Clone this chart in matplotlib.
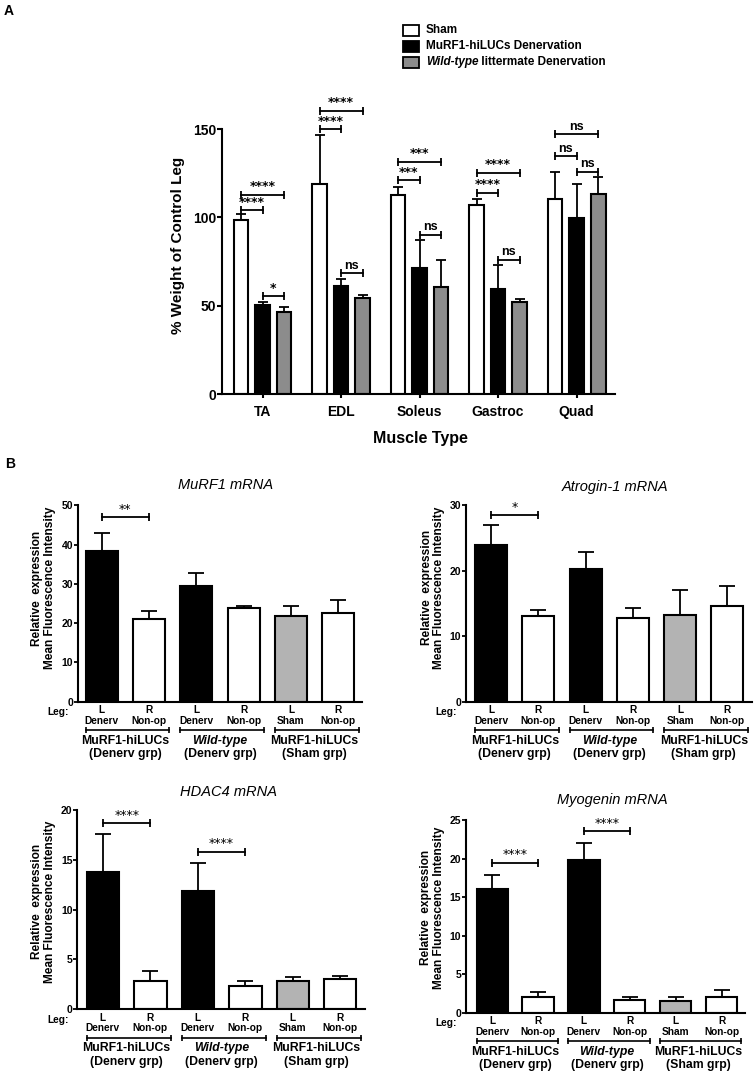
import numpy as np
import matplotlib
matplotlib.use('Agg')
import matplotlib.pyplot as plt
from matplotlib.patches import Rectangle
from matplotlib import transforms

plt.rcParams['font.family'] = ['Liberation Sans', 'DejaVu Sans']

# ---------------- panel A data (% weight of control leg)
muscles = ['TA', 'EDL', 'Soleus', 'Gastroc', 'Quad']
sham = [98.5, 118.8, 112.8, 106.8, 110.4]
sham_err = [3.5, 27.8, 4.5, 3.5, 15.2]
murf_den = [50.6, 60.9, 71.3, 59.6, 99.4]
murf_den_err = [1.4, 4.3, 16.1, 13.5, 19.8]
wt_den = [46.2, 54.5, 60.5, 52.2, 113.5]
wt_den_err = [2.8, 1.5, 15.5, 1.6, 9.5]
legend_a = ['Sham', 'MuRF1-hiLUCs Denervation', 'littermate Denervation']
# (muscle, bar i, bar j, y, label)
sig_a = [(0, 0, 1, 104, '****'), (0, 0, 2, 112.8, '****'), (0, 1, 2, 55.4, '*'),
         (1, 0, 1, 149.8, '****'), (1, 0, 2, 160.5, '****'), (1, 1, 2, 68.4, 'ns'),
         (2, 0, 1, 121, '***'), (2, 0, 2, 131.6, '***'), (2, 1, 2, 90.2, 'ns'),
         (3, 0, 1, 114.1, '****'), (3, 0, 2, 125.4, '****'), (3, 1, 2, 76, 'ns'),
         (4, 0, 1, 134.8, 'ns'), (4, 0, 2, 147, 'ns'), (4, 1, 2, 125.9, 'ns')]

# ---------------- panel B data (relative expression)
leg_side = ['L', 'R', 'L', 'R', 'L', 'R']
leg_cond = ['Denerv', 'Non-op', 'Denerv', 'Non-op', 'Sham', 'Non-op']
grp_name = ['MuRF1-hiLUCs', 'Wild-type', 'MuRF1-hiLUCs']
grp_sub = ['(Denerv grp)', '(Denerv grp)', '(Sham grp)']
murf1_mrna = [38.4, 21.0, 29.5, 23.8, 21.9, 22.7]
murf1_err = [4.6, 2.2, 3.2, 0.5, 2.5, 3.3]
atrogin_mrna = [23.9, 13.15, 20.2, 12.75, 13.25, 14.6]
atrogin_err = [3.1, 0.9, 2.7, 1.5, 3.8, 3.1]
hdac4_mrna = [13.74, 2.83, 11.87, 2.3, 2.8, 3.03]
hdac4_err = [3.9, 1.04, 2.83, 0.57, 0.4, 0.34]
myog_mrna = [16.1, 2.03, 19.8, 1.64, 1.47, 2.03]
myog_err = [1.7, 0.62, 2.16, 0.36, 0.56, 0.97]
sig_murf1 = [(0, 1, 46.9, '**')]
sig_atrogin = [(0, 1, 28.5, '*')]
sig_hdac4 = [(0, 1, 18.7, '****'), (2, 3, 15.8, '****')]
sig_myog = [(0, 1, 19.45, '****'), (2, 3, 23.57, '****')]

W, H = 755, 1074
fig = plt.figure(figsize=(W / 100, H / 100), dpi=100)
# pixel coords measured from top-left
px = transforms.Affine2D().scale(1.0 / W, -1.0 / H).translate(0, 1) + fig.transFigure


def add_ax(x0, x1, ytop, y0):
    return fig.add_axes([x0 / W, 1 - y0 / H, (x1 - x0) / W, (y0 - ytop) / H])


def bracket(ax, x1, x2, y, label, bold=True):
    ax.plot([x1, x2], [y, y], color='k', lw=1.3, clip_on=False)
    ax.plot([x1, x2], [y, y], ls='none', marker='|', ms=6, mew=1.3, color='k', clip_on=False)
    fam = 'DejaVu Sans' if '*' in label else 'Liberation Sans'
    ax.annotate(label, xy=((x1 + x2) / 2, y), xytext=(0, 1), textcoords='offset points',
                ha='center', va='bottom', fontsize=9, family=fam,
                fontweight='bold' if bold else 'normal', annotation_clip=False)


# ================= panel A
axA = add_ax(222, 615, 85, 394)
xa = np.arange(len(muscles))
off = 0.274
wa = 0.19
series = [(sham, sham_err, 'white'), (murf_den, murf_den_err, 'black'), (wt_den, wt_den_err, '#8c8c8c')]
for k, (v, e, c) in enumerate(series):
    xx = xa + (k - 1) * off
    axA.bar(xx, v, width=wa, color=c, edgecolor='k', linewidth=1.5, zorder=2)
    axA.errorbar(xx, v, yerr=[np.zeros(len(v)), e], fmt='none', ecolor='k',
                 elinewidth=1.3, capsize=3.3, capthick=1.3, zorder=1)
for g, i, j, y, lab in sig_a:
    bracket(axA, g + (i - 1) * off, g + (j - 1) * off, y, lab)

axA.set_xlim(-0.516, 4.49)
axA.set_ylim(0, 175)
axA.set_yticks([0, 50, 100, 150])
axA.spines['left'].set_bounds(0, 150)
for s in ['top', 'right']:
    axA.spines[s].set_visible(False)
for s in ['left', 'bottom']:
    axA.spines[s].set_linewidth(1.5)
axA.set_xticks(xa)
axA.set_xticklabels(muscles, fontsize=10, fontweight='bold')
axA.tick_params(axis='x', length=3, width=1.5, pad=5)
axA.tick_params(axis='y', length=3.6, width=1.5, pad=0.5, labelsize=10)
for t in axA.get_yticklabels():
    t.set_fontweight('bold')
fig.text(178, 245, '% Weight of Control Leg', transform=px, rotation=90, ha='center',
         va='center', fontsize=11, fontweight='bold')
fig.text(420, 438, 'Muscle Type', transform=px, ha='center', va='center',
         fontsize=11.5, fontweight='bold')

# legend
leg_cols = ['white', 'black', '#8c8c8c']
for r, (lab, c) in enumerate(zip(legend_a, leg_cols)):
    yc = 30 + r * 16
    fig.add_artist(Rectangle((403, yc + 5.5), 16, -11, transform=px, facecolor=c,
                             edgecolor='k', linewidth=1.3))
    if r < 2:
        fig.text(426, yc, lab, transform=px, ha='left', va='center', fontsize=8.5,
                 fontweight='bold')
    else:
        t1 = fig.text(426, yc, 'Wild-type', transform=px, ha='left', va='center',
                      fontsize=8.5, fontweight='bold', style='italic')
        axA.annotate(' ' + lab, xy=(1, 0), xycoords=t1, ha='left', va='bottom',
                     fontsize=8.5, fontweight='bold', annotation_clip=False)

fig.text(4, 11, 'A', transform=px, ha='left', va='center', fontsize=10, fontweight='bold')
fig.text(5, 464, 'B', transform=px, ha='left', va='center', fontsize=10, fontweight='bold')

# ================= panel B
bcol = ['black', 'white', 'black', 'white', '#b3b3b3', 'white']


def panel_b(box, xlim, ymax, ystep, vals, errs, sigs, title, tpos, ypos):
    ax = add_ax(*box)
    xs = np.arange(6)
    ax.bar(xs, vals, width=0.68, color=bcol, edgecolor='k', linewidth=1.5, zorder=2)
    ax.errorbar(xs, vals, yerr=[np.zeros(6), errs], fmt='none', ecolor='k',
                elinewidth=1.3, capsize=6, capthick=1.3, zorder=1)
    for i, j, y, lab in sigs:
        bracket(ax, i, j, y, lab, bold=False)
    ax.set_xlim(*xlim)
    ax.set_ylim(0, ymax)
    ax.set_yticks(np.arange(0, ymax + 0.1, ystep))
    for s in ['top', 'right']:
        ax.spines[s].set_visible(False)
    for s in ['left', 'bottom']:
        ax.spines[s].set_linewidth(1.5)
    ax.tick_params(axis='x', length=0, labelbottom=False)
    ax.tick_params(axis='y', length=3, width=1.3, pad=0.5, labelsize=7.5)
    for t in ax.get_yticklabels():
        t.set_fontweight('bold')
    # leg labels under the bars
    for i in xs:
        ax.annotate(leg_side[i], xy=(i, 0), xycoords=('data', 'axes fraction'),
                    xytext=(0, -8.5), textcoords='offset pixels', ha='center',
                    va='center', fontsize=7.3, fontweight='bold', annotation_clip=False)
        ax.annotate(leg_cond[i], xy=(i, 0), xycoords=('data', 'axes fraction'),
                    xytext=(0, -19), textcoords='offset pixels', ha='center',
                    va='center', fontsize=7.3, fontweight='bold', annotation_clip=False)
    ax.annotate('Leg:', xy=(0, 0), xycoords='axes fraction', xytext=(-9, -10.5),
                textcoords='offset pixels', ha='right', va='center', fontsize=7.3,
                fontweight='bold', annotation_clip=False)
    tr = transforms.offset_copy(ax.get_xaxis_transform(), fig=fig, y=-28.5, units='dots')
    for g in range(3):
        x1, x2 = 2 * g - 0.34, 2 * g + 1 + 0.43
        ax.plot([x1, x2], [0, 0], color='k', lw=1.2, transform=tr, clip_on=False)
        ax.plot([x1, x2], [0, 0], ls='none', marker='|', ms=5, mew=1.2, color='k',
                transform=tr, clip_on=False)
        ax.annotate(grp_name[g], xy=(2 * g + 0.5, 0), xycoords=('data', 'axes fraction'),
                    xytext=(0, -39), textcoords='offset pixels', ha='center',
                    va='center', fontsize=8.8, fontweight='bold',
                    style='italic' if g == 1 else 'normal', annotation_clip=False)
        ax.annotate(grp_sub[g], xy=(2 * g + 0.5, 0), xycoords=('data', 'axes fraction'),
                    xytext=(0, -52.5), textcoords='offset pixels', ha='center',
                    va='center', fontsize=8.8, fontweight='bold', annotation_clip=False)
    fig.text(tpos[0], tpos[1], title, transform=px, ha='center', va='center',
             fontsize=10.5, style='italic')
    fig.text(ypos[0], ypos[1], 'Relative  expression\nMean Fluorescence Intensity',
             transform=px, rotation=90, ha='center', va='center', fontsize=8.6,
             fontweight='bold', linespacing=1.1)
    return ax


panel_b((78, 362, 505.3, 701.7), (-0.5, 5.5), 50, 10, murf1_mrna, murf1_err, sig_murf1,
        'MuRF1 mRNA', (226, 485), (43.5, 588))
panel_b((466, 752, 505.3, 701.7), (-0.53, 5.52), 30, 10, atrogin_mrna, atrogin_err,
        sig_atrogin, 'Atrogin-1 mRNA', (615, 487), (433, 587.5))
panel_b((77.3, 365, 810, 1009.3), (-0.54, 5.52), 20, 5, hdac4_mrna, hdac4_err, sig_hdac4,
        'HDAC4 mRNA', (229, 792), (43.3, 901.5))
panel_b((466, 745, 820, 1012.7), (-0.57, 5.51), 25, 5, myog_mrna, myog_err, sig_myog,
        'Myogenin mRNA', (612, 800), (432.5, 907.5))

fig.savefig('out.png', dpi=100)
